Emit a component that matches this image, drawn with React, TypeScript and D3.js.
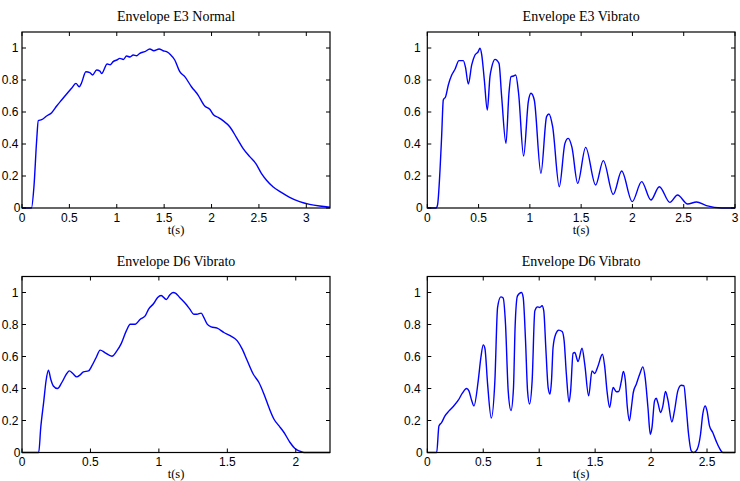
import React from "react";
import * as d3 from "d3";

// ---- Data ----
const e3NormalT = [0, 0.1, 0.126, 0.155, 0.172, 0.207, 0.26, 0.313, 0.366, 0.418, 0.471, 0.523, 0.569, 0.604, 0.627, 0.674, 0.716, 0.745, 0.787, 0.822, 0.84, 0.899, 0.93, 0.962, 1.0, 1.033, 1.07, 1.103, 1.14, 1.173, 1.21, 1.243, 1.296, 1.349, 1.391, 1.447, 1.489, 1.525, 1.565, 1.612, 1.665, 1.718, 1.788, 1.858, 1.928, 1.981, 2.023, 2.069, 2.121, 2.192, 2.262, 2.332, 2.403, 2.466, 2.526, 2.578, 2.648, 2.736, 2.824, 2.929, 3.035, 3.14, 3.25];
const e3NormalV = [0, 0, 0.133, 0.425, 0.546, 0.552, 0.575, 0.596, 0.6375, 0.675, 0.7125, 0.748, 0.779, 0.758, 0.78, 0.852, 0.846, 0.831, 0.8625, 0.856, 0.84, 0.9, 0.895, 0.915, 0.925, 0.935, 0.928, 0.95, 0.944, 0.956, 0.952, 0.967, 0.977, 0.994, 0.983, 0.994, 0.983, 0.977, 0.96, 0.925, 0.852, 0.821, 0.758, 0.706, 0.6375, 0.617, 0.581, 0.567, 0.546, 0.508, 0.442, 0.373, 0.321, 0.279, 0.217, 0.175, 0.133, 0.098, 0.067, 0.04, 0.023, 0.0125, 0.005];

const e3VibratoT = [0, 0.085, 0.1, 0.124, 0.14, 0.156, 0.179, 0.205, 0.238, 0.27, 0.309, 0.351, 0.372, 0.4, 0.433, 0.465, 0.495, 0.514, 0.53, 0.556, 0.585, 0.611, 0.627, 0.66, 0.699, 0.725, 0.767, 0.796, 0.816, 0.84, 0.862, 0.89, 0.939, 0.985, 1.011, 1.043, 1.108, 1.163, 1.186, 1.222, 1.287, 1.342, 1.374, 1.41, 1.466, 1.544, 1.641, 1.716, 1.813, 1.895, 1.998, 2.09, 2.18, 2.262, 2.365, 2.44, 2.538, 2.625, 2.72, 2.87, 3.0];
const e3VibratoV = [0, 0, 0.02, 0.2375, 0.45, 0.675, 0.696, 0.769, 0.831, 0.867, 0.921, 0.921, 0.88, 0.775, 0.894, 0.956, 0.975, 0.998, 0.96, 0.8, 0.6125, 0.821, 0.877, 0.929, 0.904, 0.696, 0.404, 0.717, 0.821, 0.825, 0.831, 0.717, 0.325, 0.665, 0.717, 0.675, 0.217, 0.571, 0.5875, 0.508, 0.133, 0.404, 0.435, 0.38, 0.154, 0.379, 0.144, 0.296, 0.085, 0.231, 0.04, 0.165, 0.05, 0.133, 0.035, 0.081, 0.025, 0.0375, 0.015, 0, 0];

const d6LeftT = [0, 0.122, 0.137, 0.159, 0.176, 0.193, 0.21, 0.229, 0.259, 0.291, 0.327, 0.346, 0.371, 0.4, 0.425, 0.449, 0.486, 0.51, 0.542, 0.571, 0.608, 0.657, 0.693, 0.723, 0.762, 0.791, 0.828, 0.864, 0.9, 0.925, 0.962, 0.991, 1.016, 1.055, 1.079, 1.104, 1.121, 1.152, 1.194, 1.226, 1.255, 1.278, 1.309, 1.328, 1.353, 1.382, 1.426, 1.475, 1.524, 1.573, 1.609, 1.646, 1.69, 1.731, 1.768, 1.804, 1.841, 1.878, 1.914, 1.958, 1.992, 2.024, 2.06, 2.25];
const d6LeftV = [0, 0, 0.156, 0.32, 0.45, 0.514, 0.458, 0.416, 0.4, 0.4375, 0.494, 0.51, 0.494, 0.4725, 0.485, 0.504, 0.51, 0.541, 0.594, 0.64, 0.623, 0.602, 0.635, 0.677, 0.76, 0.802, 0.802, 0.833, 0.854, 0.896, 0.931, 0.969, 0.981, 0.956, 0.985, 1.0, 0.996, 0.969, 0.931, 0.896, 0.864, 0.864, 0.871, 0.844, 0.802, 0.785, 0.777, 0.75, 0.729, 0.698, 0.646, 0.573, 0.489, 0.4375, 0.364, 0.281, 0.208, 0.166, 0.125, 0.0625, 0.027, 0.01, 0, 0];

const d6RightT = [0, 0.084, 0.104, 0.128, 0.158, 0.194, 0.232, 0.277, 0.312, 0.351, 0.372, 0.396, 0.417, 0.455, 0.479, 0.5, 0.515, 0.539, 0.572, 0.604, 0.628, 0.657, 0.678, 0.699, 0.723, 0.748, 0.77, 0.785, 0.806, 0.842, 0.857, 0.878, 0.896, 0.914, 0.937, 0.961, 0.985, 1.005, 1.026, 1.041, 1.059, 1.08, 1.097, 1.11, 1.124, 1.148, 1.175, 1.205, 1.223, 1.243, 1.267, 1.281, 1.303, 1.318, 1.347, 1.383, 1.407, 1.442, 1.472, 1.496, 1.526, 1.565, 1.585, 1.606, 1.63, 1.66, 1.69, 1.71, 1.734, 1.752, 1.77, 1.788, 1.806, 1.824, 1.841, 1.868, 1.898, 1.927, 1.947, 1.972, 1.993, 2.008, 2.031, 2.046, 2.061, 2.085, 2.105, 2.129, 2.15, 2.186, 2.209, 2.239, 2.269, 2.293, 2.314, 2.335, 2.359, 2.382, 2.412, 2.442, 2.462, 2.483, 2.5, 2.522, 2.551, 2.581, 2.611, 2.641, 2.75];
const d6RightV = [0, 0, 0.166, 0.1875, 0.229, 0.26, 0.2875, 0.327, 0.369, 0.4, 0.385, 0.327, 0.291, 0.448, 0.594, 0.6725, 0.65, 0.427, 0.215, 0.448, 0.906, 0.9725, 0.965, 0.802, 0.385, 0.262, 0.4, 0.79, 0.979, 1.0, 0.969, 0.698, 0.385, 0.303, 0.448, 0.885, 0.91, 0.906, 0.917, 0.885, 0.656, 0.406, 0.365, 0.448, 0.656, 0.74, 0.765, 0.756, 0.698, 0.489, 0.315, 0.385, 0.62, 0.625, 0.569, 0.652, 0.552, 0.354, 0.51, 0.494, 0.541, 0.614, 0.541, 0.385, 0.281, 0.406, 0.38, 0.381, 0.444, 0.506, 0.45, 0.281, 0.1975, 0.281, 0.375, 0.427, 0.489, 0.535, 0.468, 0.281, 0.114, 0.156, 0.3225, 0.339, 0.31, 0.25, 0.29, 0.381, 0.33, 0.191, 0.26, 0.385, 0.42, 0.417, 0.281, 0.114, 0.01, 0, 0.02, 0.114, 0.24, 0.291, 0.26, 0.166, 0.125, 0.0725, 0.027, 0, 0];

const titles = ["Envelope E3 Normal", "Envelope E3 Vibrato", "Envelope D6 Vibrato", "Envelope D6 Vibrato"];
const xMaxes = [3.25, 3, 2.25, 2.75];
const xTickSets = [
  [0, 0.5, 1, 1.5, 2, 2.5, 3],
  [0, 0.5, 1, 1.5, 2, 2.5, 3],
  [0, 0.5, 1, 1.5, 2],
  [0, 0.5, 1, 1.5, 2, 2.5],
];
const yTicks = [0, 0.2, 0.4, 0.6, 0.8, 1];
const xLabel = "t(s)";

const series = [
  { t: e3NormalT, v: e3NormalV },
  { t: e3VibratoT, v: e3VibratoV },
  { t: d6LeftT, v: d6LeftV },
  { t: d6RightT, v: d6RightV },
];

// ---- Layout ----
const W = 740;
const H = 481;
const boxes = [
  { left: 22, top: 32, width: 308, height: 176, gap: 3.5 },
  { left: 427.3, top: 32, width: 307.7, height: 176, gap: 6.5 },
  { left: 22, top: 276.5, width: 308, height: 176, gap: 3.5 },
  { left: 427.3, top: 276.5, width: 307.7, height: 176, gap: 6.5 },
];

const tickFont = "'Liberation Sans', Arial, Helvetica, sans-serif";
const serif = "'Liberation Serif', 'Times New Roman', Times, serif";
const fmt = (d: number) => (d === 0 ? "0" : d3.format("~g")(d));

function Panel({ idx }: { idx: number }) {
  const b = boxes[idx];
  const x = d3.scaleLinear().domain([0, xMaxes[idx]]).range([b.left, b.left + b.width]);
  const y = d3.scaleLinear().domain([0, 1.1]).range([b.top + b.height, b.top]);
  const s = series[idx];
  const pts: [number, number][] = s.t.map((t, i) => [t, s.v[i]]);
  const line = d3
    .line<[number, number]>()
    .x((d) => x(d[0]))
    .y((d) => y(d[1]))
    .curve(d3.curveMonotoneX);
  const bottom = b.top + b.height;
  const right = b.left + b.width;
  const tl = 4;
  const cx = b.left + b.width / 2;
  return (
    <g>
      <text x={cx} y={b.top - 11} textAnchor="middle" fontFamily={serif} fontSize={14} fill="#000">
        {titles[idx]}
      </text>
      <path d={line(pts) || ""} fill="none" stroke="#0000ff" strokeWidth={1.4} strokeLinejoin="round" />
      <rect x={b.left} y={b.top} width={b.width} height={b.height} fill="none" stroke="#000" strokeWidth={1.2} />
      {xTickSets[idx].map((t) => (
        <g key={"x" + t}>
          <line x1={x(t)} x2={x(t)} y1={bottom} y2={bottom - tl} stroke="#000" strokeWidth={1} />
          <line x1={x(t)} x2={x(t)} y1={b.top} y2={b.top + tl} stroke="#000" strokeWidth={1} />
          <text x={x(t)} y={bottom + 13.5} textAnchor="middle" fontFamily={tickFont} fontSize={12} fill="#000">
            {fmt(t)}
          </text>
        </g>
      ))}
      {yTicks.map((t) => (
        <g key={"y" + t}>
          <line x1={b.left} x2={b.left + tl} y1={y(t)} y2={y(t)} stroke="#000" strokeWidth={1} />
          <line x1={right} x2={right - tl} y1={y(t)} y2={y(t)} stroke="#000" strokeWidth={1} />
          <text
            x={b.left - b.gap + (t === 0 ? 2 : 0)}
            y={y(t) + 4.2}
            textAnchor="end"
            fontFamily={tickFont}
            fontSize={12}
            fill="#000"
          >
            {fmt(t)}
          </text>
        </g>
      ))}
      <text x={cx} y={bottom + 25.5} textAnchor="middle" fontFamily={serif} fontSize={12.5} fill="#000">
        {xLabel}
      </text>
    </g>
  );
}

export default function App() {
  return (
    <svg
      width={W}
      height={H}
      viewBox={`0 0 ${W} ${H}`}
      style={{ position: "absolute", left: 0, top: 0, background: "#fff" }}
    >
      <rect x={0} y={0} width={W} height={H} fill="#fff" />
      {[0, 1, 2, 3].map((i) => (
        <Panel key={i} idx={i} />
      ))}
    </svg>
  );
}
